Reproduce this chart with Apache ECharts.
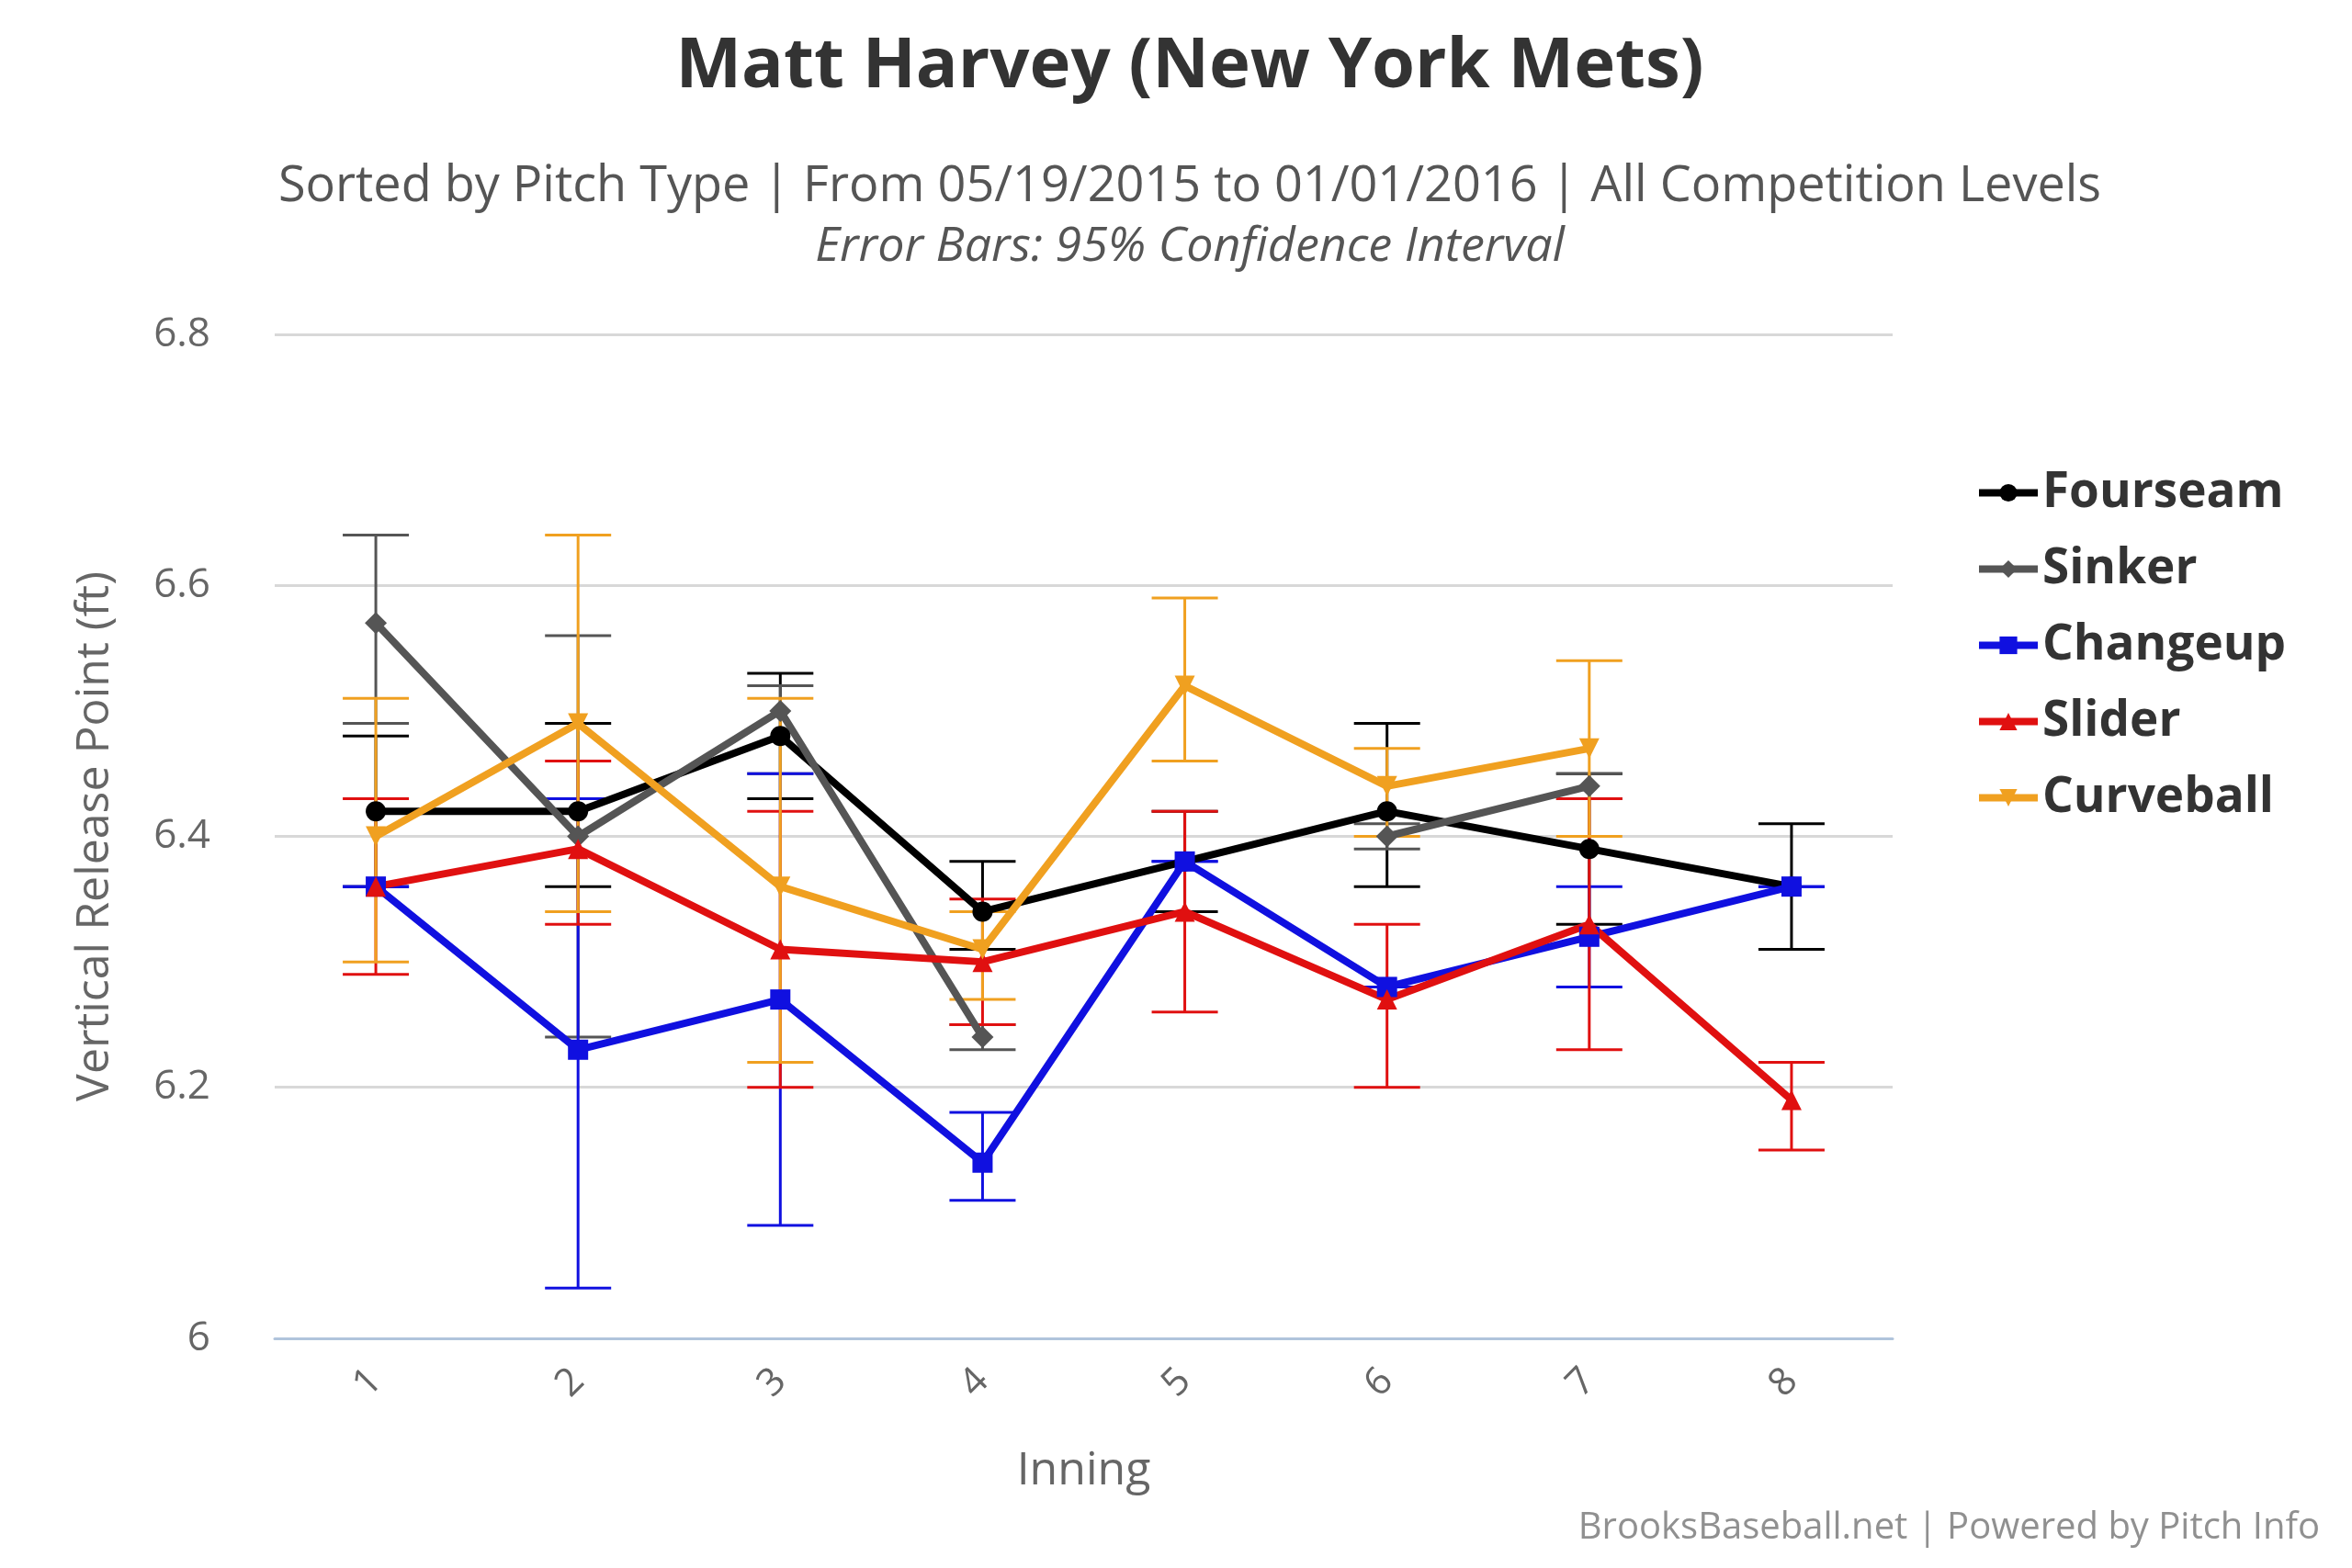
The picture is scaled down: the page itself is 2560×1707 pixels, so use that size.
<!DOCTYPE html><html><head><meta charset="utf-8">
<script src="https://cdn.jsdelivr.net/npm/echarts@6/dist/echarts.min.js"></script>
<style>html,body{margin:0;background:#fff}#c{width:2560px;height:1707px}</style></head><body><div id="c"></div>
<script>
const innings=['1','2','3','4','5','6','7','8'];
const names=['Fourseam','Sinker','Changeup','Slider','Curveball'];
const colors=['#000000','#555555','#1010e0','#e01010','#f0a020'];
const symbols=['circle','diamond','rect','triangle','path://M0,0 L10,0 L5,9 Z'];
const fourseam=[6.42,6.42,6.48,6.34,6.38,6.42,6.39,6.36];
const fourseamLo=[6.36,6.36,6.43,6.31,6.34,6.36,6.33,6.31];
const fourseamHi=[6.48,6.49,6.53,6.38,6.42,6.49,6.45,6.41];
const sinker=[6.57,6.40,6.50,6.24,null,6.40,6.44,null];
const sinkerLo=[6.49,6.24,6.45,6.23,null,6.39,6.43,null];
const sinkerHi=[6.64,6.56,6.52,6.25,null,6.41,6.45,null];
const changeup=[6.36,6.23,6.27,6.14,6.38,6.28,6.32,6.36];
const changeupLo=[6.36,6.04,6.09,6.11,6.38,6.28,6.28,6.36];
const changeupHi=[6.36,6.43,6.45,6.18,6.38,6.28,6.36,6.36];
const slider=[6.36,6.39,6.31,6.30,6.34,6.27,6.33,6.19];
const sliderLo=[6.29,6.33,6.20,6.25,6.26,6.20,6.23,6.15];
const sliderHi=[6.43,6.46,6.42,6.35,6.42,6.33,6.43,6.22];
const curveball=[6.40,6.49,6.36,6.31,6.52,6.44,6.47,null];
const curveballLo=[6.30,6.34,6.22,6.27,6.46,6.40,6.40,null];
const curveballHi=[6.51,6.64,6.51,6.34,6.59,6.47,6.54,null];
const vals=[fourseam,sinker,changeup,slider,curveball];
const los=[fourseamLo,sinkerLo,changeupLo,sliderLo,curveballLo];
const his=[fourseamHi,sinkerHi,changeupHi,sliderHi,curveballHi];
const series=[];
names.forEach((n,k)=>{
  const d=[];innings.forEach((c,i)=>{if(los[k][i]!=null)d.push([i,los[k][i],his[k][i]]);});
  series.push({type:'custom',name:n+'err',z:1,data:d,
    renderItem:(p,api)=>{const lo=api.coord([api.value(0),api.value(1)]);const hi=api.coord([api.value(0),api.value(2)]);const w=36;
      const st={stroke:colors[k],lineWidth:3};
      return {type:'group',children:[
        {type:'line',shape:{x1:lo[0],y1:lo[1],x2:hi[0],y2:hi[1]},style:st},
        {type:'line',shape:{x1:lo[0]-w,y1:lo[1],x2:lo[0]+w,y2:lo[1]},style:st},
        {type:'line',shape:{x1:hi[0]-w,y1:hi[1],x2:hi[0]+w,y2:hi[1]},style:st}]};}});
  series.push({type:'line',name:n,data:vals[k],connectNulls:false,symbol:symbols[k],symbolSize:k==1?24:22,
    lineStyle:{width:8,color:colors[k]},itemStyle:{color:colors[k]},z:2});
});
const ch=echarts.init(document.getElementById('c'));
ch.setOption({animation:false,
 title:[{text:'Matt Harvey (New York Mets)',left:1290,top:30,textAlign:'center',textStyle:{fontFamily:'Open Sans',fontSize:76,fontWeight:'bold',color:'#333'}},
  {text:'Sorted by Pitch Type | From 05/19/2015 to 01/01/2016 | All Competition Levels',left:1290,top:172,textAlign:'center',textStyle:{fontFamily:'Open Sans',fontSize:54,fontWeight:'normal',color:'#555'}},
  {text:'Error Bars: 95% Confidence Interval',left:1290,top:238,textAlign:'center',textStyle:{fontFamily:'Open Sans',fontSize:52,fontStyle:'italic',fontWeight:'normal',color:'#555'}},
  {text:'BrooksBaseball.net | Powered by Pitch Info',right:30,bottom:18,textStyle:{fontFamily:'Open Sans',fontSize:40,fontWeight:'normal',color:'#909090'}}],
 legend:{data:names,orient:'vertical',left:2145,top:505,itemGap:30,itemWidth:64,itemHeight:24,
  lineStyle:{width:8},itemStyle:{borderWidth:0},
  textStyle:{fontFamily:'Open Sans',fontSize:53,fontWeight:'bold',color:'#333'}},
 grid:{left:299,right:500,top:364,bottom:250},
 xAxis:{type:'category',data:innings,name:'Inning',nameLocation:'middle',nameGap:120,nameTextStyle:{fontFamily:'Open Sans',fontSize:50,color:'#666'},
  axisLine:{lineStyle:{color:'#b0c4dc',width:3}},axisTick:{length:36,lineStyle:{color:'#b0c4dc',width:3}},
  axisLabel:{rotate:45,margin:40,fontFamily:'Open Sans',fontSize:42,color:'#666'}},
 yAxis:{type:'value',min:6,max:6.8,interval:0.2,name:'Vertical Release Point (ft)',nameLocation:'middle',nameGap:170,
  nameTextStyle:{fontFamily:'Open Sans',fontSize:50,color:'#666'},
  axisLabel:{margin:70,fontFamily:'Open Sans',fontSize:44,color:'#666',formatter:v=>String(+v.toFixed(1))},
  splitLine:{lineStyle:{color:'#d8d8d8',width:3}}},
 series:series});
</script></body></html>
